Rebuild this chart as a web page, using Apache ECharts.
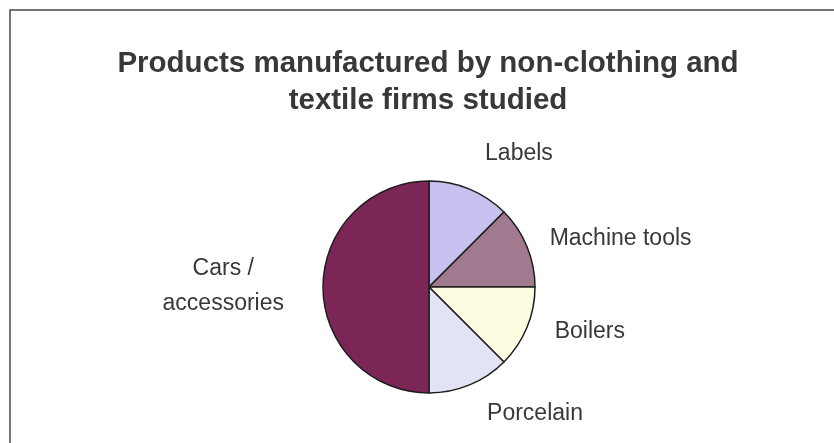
<!DOCTYPE html>
<html>
<head>
<meta charset="utf-8">
<title>Products manufactured by non-clothing and textile firms studied</title>
<script src="https://cdn.jsdelivr.net/npm/echarts@6/dist/echarts.min.js"></script>
<style>
  html, body { margin: 0; padding: 0; background: #ffffff; }
  #chart { width: 834px; height: 443px; }
</style>
</head>
<body>
<div id="chart"></div>
<script>
// Firms studied, by product (number of firms)
const titleLines = ['Products manufactured by non-clothing and', 'textile firms studied'];
const categories = ['Labels', 'Machine tools', 'Boilers', 'Porcelain', 'Cars /\naccessories'];
const firmCounts = [1, 1, 1, 1, 4];

// Slice fills, in category order
const sliceColors = ['#c6c1ee', '#a27a8f', '#fdfde2', '#e3e3f6', '#7c2658'];
// Small nudges applied to the outside labels [dx, dy]
const labelNudge = [[2, -20], [0, -1], [5, -2], [4, 13], [-15, -1]];

const chart = echarts.init(document.getElementById('chart'), null, { renderer: 'canvas' });

chart.setOption({
  backgroundColor: '#ffffff',
  animation: false,
  graphic: [
    {
      // chart frame (only top and left edges fall inside the canvas)
      type: 'rect',
      shape: { x: 10, y: 10, width: 1000, height: 1000 },
      style: { fill: 'none', stroke: '#4a4a4a', lineWidth: 1.5 }
    },
    {
      type: 'text',
      x: 428,
      y: 82,
      style: {
        text: titleLines.join('\n'),
        font: 'bold 29.5px "Liberation Sans", Arial, sans-serif',
        lineHeight: 37,
        fill: '#383838',
        align: 'center',
        verticalAlign: 'middle'
      }
    }
  ],
  series: [
    {
      type: 'pie',
      center: [429, 287],
      radius: 106,
      startAngle: 90,
      clockwise: true,
      avoidLabelOverlap: false,
      itemStyle: { borderColor: '#1e1e1e', borderWidth: 1.5 },
      label: {
        show: true,
        position: 'outside',
        distanceToLabelLine: 5,
        fontFamily: '"Liberation Sans", Arial, sans-serif',
        fontSize: 23,
        lineHeight: 35,
        color: '#383838'
      },
      labelLine: { show: false, length: 17, length2: 2 },
      labelLayout: function (p) {
        const nudge = labelNudge[p.dataIndex];
        if (p.dataIndex === 4) {
          const r = p.labelRect;
          return {
            x: r.x + r.width / 2 + nudge[0],
            y: r.y + r.height / 2 + nudge[1],
            align: 'center',
            verticalAlign: 'middle'
          };
        }
        return { dx: nudge[0], dy: nudge[1] };
      },
      emphasis: { disabled: true },
      data: categories.map((name, i) => ({
        name: name,
        value: firmCounts[i],
        itemStyle: { color: sliceColors[i] }
      }))
    }
  ]
});
</script>
</body>
</html>
